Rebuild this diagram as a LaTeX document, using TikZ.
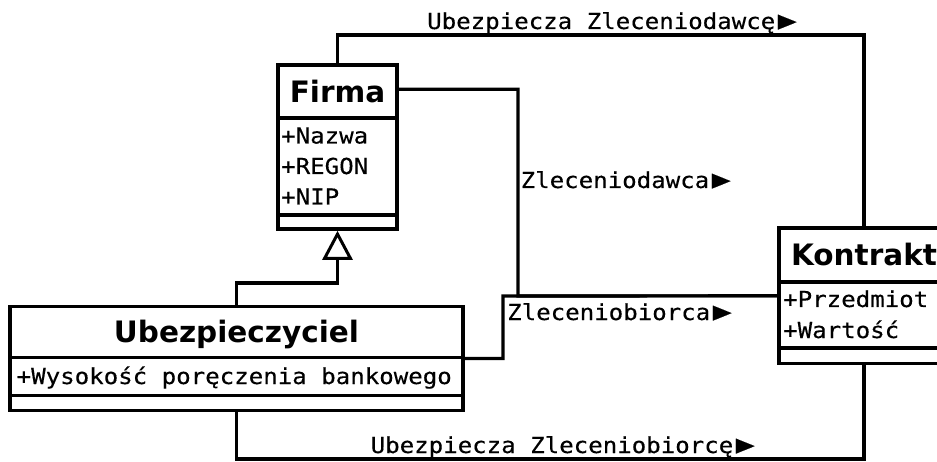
\documentclass[tikz,border=0pt]{standalone}
\usepackage{fontspec}
\usetikzlibrary{arrows.meta,calc}
\newfontfamily\monof[FakeStretch=1.095,FakeBold=0.3]{DejaVu Sans Mono}
\newfontfamily\titlef{DejaVu Sans}
\newcommand{\rtri}{\kern2.5pt\raisebox{0.3pt}{\scalebox{1.3}[1.15]{▶}}}
\tikzset{
  umlbox/.style={draw=black, line width=3.6pt, fill=white, inner sep=0pt},
  sepline/.style={line width=3.6pt},
  conn/.style={line width=3.2pt},
  gen/.style={line width=3.2pt, -{Triangle[open, length=29pt, width=30pt, line width=3pt]}},
  ttl/.style={inner sep=0pt, anchor=base, font=\titlef\bfseries\fontsize{29.5}{34}\selectfont},
  attr/.style={inner sep=0pt, anchor=base west, font=\monof\fontsize{22}{28}\selectfont},
}
\begin{document}
\begin{tikzpicture}[x=1pt, y=-1pt]
\clip (0,0) rectangle (937,462);
\fill[white] (0,0) rectangle (937,462);

% boxes
\node[umlbox, minimum width=119pt, minimum height=164pt] (firma) at (337.5,147) {};
\node[umlbox, minimum width=453pt, minimum height=104pt] (ubez) at (236.5,358.5) {};
\node[umlbox, minimum width=170pt, minimum height=135pt] (kontrakt) at (864,295.8) {};

% compartments
\draw[sepline] (278,118) -- (397,118);
\draw[sepline] (278,215) -- (397,215);
\draw[sepline] (10,357.5) -- (463,357.5);
\draw[sepline] (10,395.5) -- (463,395.5);
\draw[sepline] (779,282) -- (949,282);
\draw[sepline] (779,348) -- (949,348);

% texts in boxes
\node[ttl] (tf) at (337.5,103) {Firma};
\node[ttl] (tu) at (236.5,342) {Ubezpieczyciel};
\node[ttl] (tk) at (864,265.5) {Kontrakt};
\node[attr] (a1) at (281,143.5) {+Nazwa};
\node[attr] (a2) at (281,174) {+REGON};
\node[attr] (a3) at (281,204.5) {+NIP};
\node[attr] (a4) at (16.5,384) {+Wysokość poręczenia bankowego};
\node[attr] (a5) at (783,307) {+Przedmiot};
\node[attr] (a6) at (783,338) {+Wartość};

% helper coordinates
\coordinate (ytop) at (0,35);
\coordinate (ybot) at (0,459);
\coordinate (ygen) at (0,283);
\coordinate (f1) at ($(firma.north east)+(0,26)$);

% connectors
\draw[conn] (firma.north) -- (firma.north |- ytop) -| (kontrakt.north);
\draw[conn] (f1) -| (518,296) -- (kontrakt.west);
\draw[conn] (ubez.east) -| (503,296) -- (kontrakt.west);
\draw[conn] (ubez.south) -- (ubez.south |- ybot) -| (kontrakt.south);
\draw[gen] (ubez.north) |- (firma.south |- ygen) -- (firma.south);

% labels
\node[attr] (l1) at (427,29) {Ubezpiecza Zleceniodawcę\rtri};
\node[attr] (l2) at (520.5,188) {Zleceniodawca\rtri};
\node[attr] (l3) at (507,320) {Zleceniobiorca\rtri};
\node[attr] (l4) at (370.5,453) {Ubezpiecza Zleceniobiorcę\rtri};
\end{tikzpicture}
\end{document}
